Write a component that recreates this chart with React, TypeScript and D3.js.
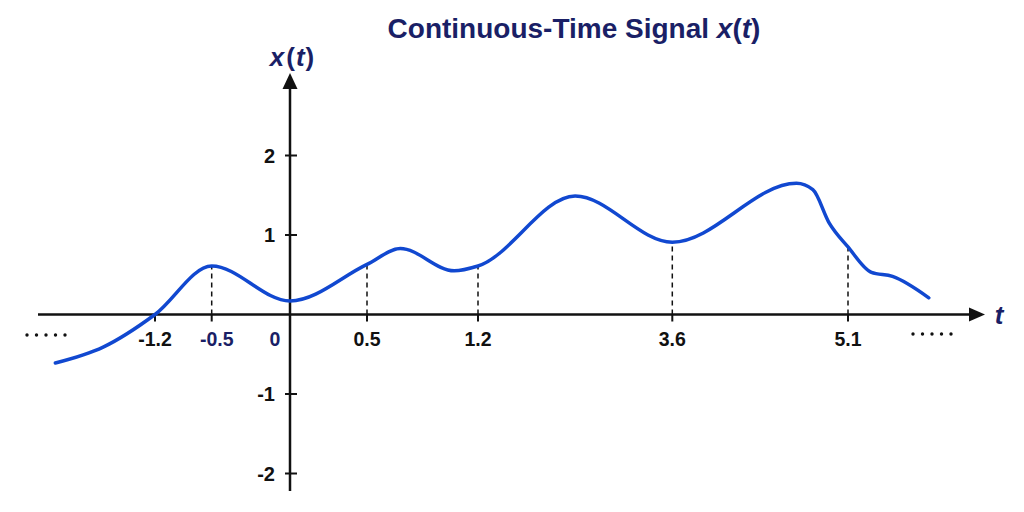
import * as d3 from "d3";

// tick values on the time axis (the drawing is schematic, so the axis is piecewise)
const tickT = [-1.2, -0.5, 0, 0.5, 1.2, 3.6, 5.1];
const tickLabels = ["-1.2", "-0.5", "0", "0.5", "1.2", "3.6", "5.1"];
const navyTicks = ["-0.5", "0"];
const guideT = [-0.5, 0.5, 1.2, 3.6, 5.1];
const yTicks = [-2, -1, 1, 2];

// samples of x(t): peaks, dips and marked instants
const signalT = [
  -2.43, -1.84, -1.2, -0.5, 0, 0.5, 0.71, 1.05, 1.2, 2.4, 3.6, 4.66, 4.8, 4.94,
  5.1, 5.3, 5.48, 5.79,
];
const signalV = [
  -0.61, -0.41, 0, 0.61, 0.17, 0.63, 0.83, 0.55, 0.61, 1.49, 0.91, 1.65, 1.57,
  1.15, 0.85, 0.53, 0.48, 0.21,
];

const W = 1024;
const H = 512;
const NAVY = "#1a1f66";
const INK = "#111";
const BLUE = "#1148d0";
const FONT = "'Liberation Sans', Arial, sans-serif";

export default function App() {
  const x = d3
    .scaleLinear()
    .domain(tickT)
    .range([155, 211.7, 290, 367, 478, 672.3, 848]);
  const y = d3.scaleLinear().domain([-2, 2]).range([473.5, 155.5]);

  const y0 = y(0);
  const x0 = x(0);
  const pts = signalT.map((t, i) => [t, signalV[i]] as [number, number]);
  const line = d3
    .line<[number, number]>()
    .x((d) => x(d[0]))
    .y((d) => y(d[1]))
    .curve(d3.curveMonotoneX);

  const valueAt = (t: number) => signalV[signalT.indexOf(t)];

  const xStart = 38;
  const xEnd = 985;
  const yTop = 73;
  const yBottom = 491;

  const dots = d3.range(5);

  return (
    <svg
      width={W}
      height={H}
      style={{ position: "absolute", left: 0, top: 0, background: "#fff" }}
      fontFamily={FONT}
      fontWeight="bold"
    >
      <text x={574} y={38} textAnchor="middle" fontSize={28} fill={NAVY}>
        Continuous-Time Signal <tspan fontStyle="italic">x</tspan>(
        <tspan fontStyle="italic">t</tspan>)
      </text>

      {/* axes */}
      <line x1={xStart} x2={xEnd - 14} y1={y0} y2={y0} stroke={INK} strokeWidth={2.5} />
      <path d={`M${xEnd},${y0} L${xEnd - 16},${y0 - 7} L${xEnd - 16},${y0 + 7} Z`} fill={INK} />
      <line x1={x0} x2={x0} y1={yBottom} y2={yTop + 14} stroke={INK} strokeWidth={2.5} />
      <path d={`M${x0},${yTop} L${x0 - 7.5},${yTop + 16} L${x0 + 7.5},${yTop + 16} Z`} fill={INK} />

      <text x={292} y={66} textAnchor="middle" fontSize={26} fill={NAVY}>
        <tspan fontStyle="italic">x</tspan>
        <tspan dx={2}>(</tspan>
        <tspan fontStyle="italic" dx={1}>t</tspan>
        <tspan dx={1}>)</tspan>
      </text>
      <text x={999} y={324} textAnchor="middle" fontSize={26} fontStyle="italic" fill={NAVY}>
        t
      </text>

      {/* y ticks */}
      {yTicks.map((v) => (
        <g key={v}>
          <line x1={x0 - 5} x2={x0 + 7} y1={y(v)} y2={y(v)} stroke={INK} strokeWidth={2} />
          <text x={x0 - 15} y={y(v) + 7} textAnchor="end" fontSize={20} fill={INK}>
            {v}
          </text>
        </g>
      ))}

      {/* x ticks */}
      {tickT.map((t) =>
        t === 0 ? null : (
          <line key={t} x1={x(t)} x2={x(t)} y1={y0} y2={y0 + 7} stroke={INK} strokeWidth={2} />
        )
      )}
      {tickT.map((t, i) => (
        <text
          key={"l" + t}
          x={t === 0 ? x0 - 15 : x(t) + (t === -0.5 ? 5 : 0)}
          y={y0 + 31}
          textAnchor="middle"
          fontSize={19.5}
          fill={navyTicks.includes(tickLabels[i]) ? NAVY : INK}
        >
          {tickLabels[i]}
        </text>
      ))}

      {/* dashed guides */}
      {guideT.map((t) => (
        <line
          key={"g" + t}
          x1={x(t)}
          x2={x(t)}
          y1={y0}
          y2={y(valueAt(t))}
          stroke={INK}
          strokeWidth={1.5}
          strokeDasharray="5,4"
        />
      ))}

      {/* continuation dots */}
      {dots.map((i) => (
        <circle key={"a" + i} cx={27 + i * 9.5} cy={335} r={1.7} fill={INK} />
      ))}
      {dots.map((i) => (
        <circle key={"b" + i} cx={913 + i * 9.5} cy={334} r={1.7} fill={INK} />
      ))}

      <path d={line(pts) ?? ""} fill="none" stroke={BLUE} strokeWidth={3.5} strokeLinecap="round" />
    </svg>
  );
}
